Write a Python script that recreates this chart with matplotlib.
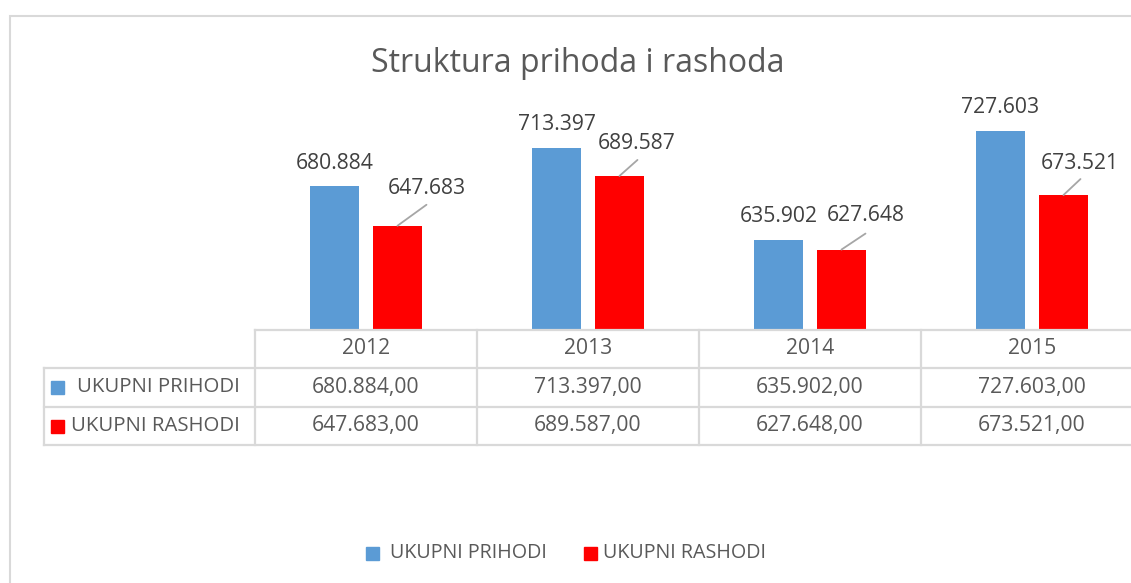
import matplotlib.pyplot as plt
from matplotlib.patches import Rectangle
from matplotlib.lines import Line2D
import matplotlib.transforms as mtransforms

plt.rcParams['font.family'] = ['Open Sans', 'DejaVu Sans']

years = ['2012', '2013', '2014', '2015']
prihodi = [680.884, 713.397, 635.902, 727.603]
rashodi = [647.683, 689.587, 627.648, 673.521]
series = ['UKUPNI PRIHODI', 'UKUPNI RASHODI']
colors = ['#5B9BD5', '#FF0000']

W, H = 1131, 583
TXT = '#595959'
GRID = '#D9D9D9'


def fx(px):
    return px / W


def fy(py):
    return 1 - py / H


def fmt_label(v):
    return ('%.3f' % v)


def fmt_table(v):
    return '%d.%03d,00' % (int(v), round((v - int(v)) * 1000))


fig = plt.figure(figsize=(W / 100, H / 100), dpi=100)

# outer chart frame (cut off at right/bottom like the screenshot)
fig.patches.append(Rectangle((fx(10), fy(700)), fx(1200), 684 / H,
                             transform=fig.transFigure, fill=False,
                             edgecolor=GRID, lw=1.5))

fig.text(fx(578), fy(63), 'Struktura prihoda i rashoda', ha='center', va='center',
         fontsize=23, color=TXT)

ax = fig.add_axes([fx(255), fy(330), fx(1143 - 255), (330 - 116) / H])
ax.set_xlim(-0.5, 3.5)
ax.set_ylim(560, 740)
ax.axis('off')

x = list(range(len(years)))
bw = 0.225
off = 0.1418
ax.bar([i - off for i in x], prihodi, bw, bottom=0, color=colors[0])
ax.bar([i + off for i in x], rashodi, bw, bottom=0, color=colors[1])

for i, v in enumerate(prihodi):
    ax.annotate(fmt_label(v), (i - off, v), xytext=(0, 23), textcoords='offset pixels',
                ha='center', va='center', fontsize=15.2, color='#404040')

red_offsets = [(29, 37, 29, 21), (17, 32, 18, 16), (24, 34, 24, 16), (16, 32, 17, 16)]
for i, v in enumerate(rashodi):
    tx, ty, lx, ly = red_offsets[i]
    ax.annotate(fmt_label(v), (i + off, v), xytext=(tx, ty), textcoords='offset pixels',
                ha='center', va='center', fontsize=15.2, color='#404040')
    ax.annotate('', (i + off, v), xytext=(lx, ly), textcoords='offset pixels',
                arrowprops=dict(arrowstyle='-', color='#A6A6A6', lw=1.3,
                                shrinkA=0, shrinkB=0))

# data table below the plot
tr = mtransforms.blended_transform_factory(ax.transData, fig.transFigure)
rows_y = [330, 368, 407, 445]
lw_t = 1.6
for k in range(len(years) + 1):
    fig.add_artist(Line2D([k - 0.5, k - 0.5], [fy(rows_y[0]), fy(rows_y[-1])],
                          transform=tr, color=GRID, lw=lw_t))
fig.add_artist(Line2D([-0.5, 3.6], [fy(rows_y[0]), fy(rows_y[0])], transform=tr,
                      color=GRID, lw=lw_t))
for yy in rows_y[1:]:
    fig.add_artist(Line2D([fx(44), fx(1140)], [fy(yy), fy(yy)],
                          transform=fig.transFigure, color=GRID, lw=lw_t))
fig.add_artist(Line2D([fx(44), fx(44)], [fy(rows_y[1]), fy(rows_y[-1])],
                      transform=fig.transFigure, color=GRID, lw=lw_t))

for k, yr in enumerate(years):
    fig.text(k, fy((rows_y[0] + rows_y[1]) / 2), yr, transform=tr, ha='center',
             va='center', fontsize=15.2, color=TXT)
for r, vals in enumerate([prihodi, rashodi]):
    yc = fy((rows_y[r + 1] + rows_y[r + 2]) / 2)
    for k, v in enumerate(vals):
        fig.text(k, yc, fmt_table(v), transform=tr, ha='center', va='center',
                 fontsize=15.2, color=TXT)
    fig.patches.append(Rectangle((fx(51), yc - 6.5 / H), fx(13), 13 / H,
                                 transform=fig.transFigure, color=colors[r]))
    fig.text(fx(77 if r == 0 else 71), yc, series[r], ha='left', va='center',
             fontsize=14.7, color=TXT)

# legend at the bottom
leg_x = [(366, 390), (584, 603)]
for r, (sx, tx) in enumerate(leg_x):
    fig.patches.append(Rectangle((fx(sx), fy(560)), fx(13), 13 / H,
                                 transform=fig.transFigure, color=colors[r]))
    fig.text(fx(tx), fy(553), series[r], ha='left', va='center', fontsize=14.2,
             color=TXT)

fig.savefig('out.png', dpi=100, facecolor='white')
